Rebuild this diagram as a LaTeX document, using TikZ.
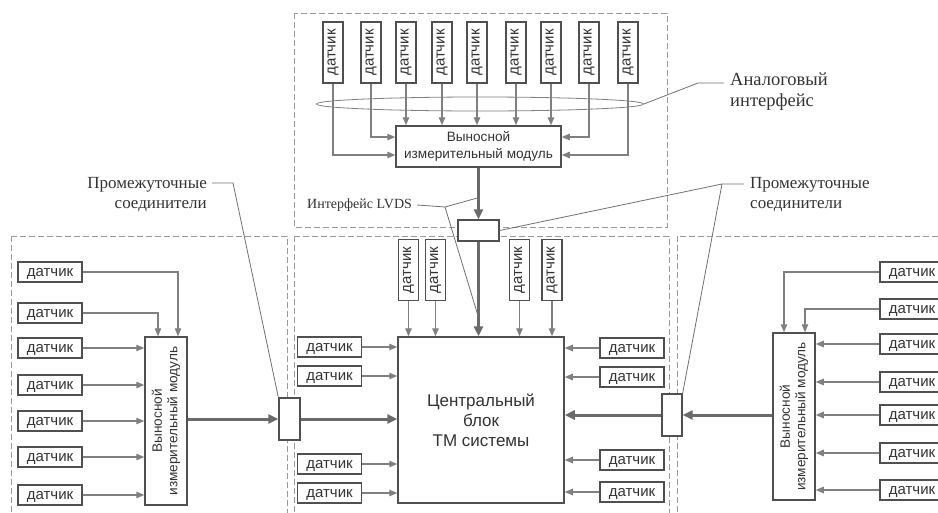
\documentclass[tikz,border=0pt]{standalone}
\usepackage{fontspec}
\setmainfont{Liberation Serif}
\setsansfont{Liberation Sans}
\usepackage{graphicx}
\usetikzlibrary{arrows.meta,positioning,calc,shapes.geometric}
\definecolor{boxc}{HTML}{505050}
\definecolor{arrc}{HTML}{808080}
\definecolor{bigc}{HTML}{6A6A6A}
\definecolor{leadc}{HTML}{707070}
\definecolor{zonec}{HTML}{9A9A9A}
\definecolor{txt}{HTML}{333333}

\begin{document}
\begin{tikzpicture}[x=1pt, y=-1pt,
  dat/.style={rectangle, draw=boxc, line width=1.4pt, fill=white, inner sep=0pt,
    minimum width=64pt, minimum height=20pt, text=txt, text depth=0pt,
    font=\sffamily\fontsize{15}{17}\selectfont},
  vdat/.style={dat, minimum width=20pt, minimum height=61pt},
  mod/.style={rectangle, draw=boxc, line width=1.5pt, fill=white, inner sep=0pt,
    text=txt, align=center, font=\sffamily\fontsize{13.6}{17.5}\selectfont},
  con/.style={rectangle, draw=boxc, line width=1.3pt, fill=white, inner sep=0pt},
  arr/.style={draw=arrc, line width=1.3pt, -{Triangle[length=8pt,width=6.5pt]}},
  big/.style={draw=bigc, line width=3pt, -{Triangle[length=10pt,width=9pt]}},
  lead/.style={draw=leadc, line width=0.8pt},
  zone/.style={draw=zonec, line width=1pt, dash pattern=on 6pt off 3pt},
  lbl/.style={inner sep=0pt, text=txt, font=\rmfamily\fontsize{17}{20.5}\selectfont}]
\useasboundingbox (0,0) rectangle (938,512);

% dashed zones
\draw[zone] (294,13) rectangle (667,227);
\draw[zone] (11,236) rectangle (287,530);
\draw[zone] (294,236) rectangle (669,530);
\draw[zone] (677,236) rectangle (950,530);

% top module
\foreach \i/\x in {1/333,2/371,3/406,4/442,5/477,6/516,7/551,8/589,9/628}
  \node[vdat] (t\i) at (\x,52.5) {\rotatebox{90}{датчик}};
\node[mod, minimum width=165pt, minimum height=41pt] (tm) at (478.5,146.5)
  {Выносной\\измерительный модуль};
\node[ellipse, draw=arrc, line width=0.8pt, minimum width=327pt, minimum height=14pt,
  inner sep=0pt] (an) at (480,104) {};
\draw[arr] (t1.south) |- ([yshift=-8.5pt]tm.west);
\draw[arr] (t2.south) |- ([yshift=9.5pt]tm.west);
\foreach \i in {3,...,7} \draw[arr] (t\i.south) -- (t\i.south |- tm.north);
\draw[arr] (t8.south) |- ([yshift=9.5pt]tm.east);
\draw[arr] (t9.south) |- ([yshift=-8.5pt]tm.east);

% central block
\node[con, minimum width=41pt, minimum height=21pt] (tc) at (478.5,230.5) {};
\node[mod, minimum width=166pt, minimum height=166pt,
  font=\sffamily\fontsize{17}{20}\selectfont] (cb) at (481,420)
  {Центральный\\блок\\ТМ системы};
\foreach \i/\x in {1/408.5,2/435.5,3/519.5,4/552}
  \node[vdat] (c\i) at (\x,270) {\rotatebox{90}{датчик}};
\foreach \i/\y in {1/347,2/376,3/464,4/493}
  \node[dat] (cl\i) at (329.5,\y) {датчик};
\foreach \i/\y in {1/348,2/377,3/460,4/492}
  \node[dat] (cr\i) at (632,\y) {датчик};
\foreach \i in {1,...,4} {
  \draw[arr] (c\i.south) -- (c\i.south |- cb.north);
  \draw[arr] (cl\i.east) -- (cl\i.east -| cb.west);
  \draw[arr] (cr\i.west) -- (cr\i.west -| cb.east);
}
\draw[big] (tm.south) -- (tc.north);
\draw[big] (tc.south) -- (tc.south |- cb.north);

% left module
\node[mod, minimum width=42pt, minimum height=168pt] (lm) at (166,421)
  {\rotatebox{90}{\begin{tabular}{@{}c@{}}Выносной\\[-2pt]измерительный модуль\end{tabular}}};
\foreach \i/\y in {1/272,2/313,3/348,4/385,5/421,6/457,7/495}
  \node[dat] (ls\i) at (50,\y) {датчик};
\draw[arr] (ls1.east) -| ([xshift=12pt]lm.north);
\draw[arr] (ls2.east) -| ([xshift=-8pt]lm.north);
\foreach \i in {3,...,7} \draw[arr] (ls\i.east) -- (ls\i.east -| lm.west);
\node[con, minimum width=21pt, minimum height=42pt] (lc) at (289.5,419) {};
\draw[big] (lm.east |- lc.west) -- (lc.west);
\draw[big] (lc.east) -- (lc.east -| cb.west);

% right module
\node[mod, minimum width=42pt, minimum height=167pt] (rm) at (794,416.5)
  {\rotatebox{90}{\begin{tabular}{@{}c@{}}Выносной\\[-2pt]измерительный модуль\end{tabular}}};
\foreach \i/\y in {1/272,2/309,3/344,4/382,5/415,6/453,7/490}
  \node[dat] (rs\i) at (912,\y) {датчик};
\draw[arr] (rs1.west) -| ([xshift=-10pt]rm.north);
\draw[arr] (rs2.west) -| ([xshift=11pt]rm.north);
\foreach \i in {3,...,7} \draw[arr] (rs\i.west) -- (rs\i.west -| rm.east);
\node[con, minimum width=20pt, minimum height=42pt] (rc) at (672,415) {};
\draw[big] (rm.west |- rc.east) -- (rc.east);
\draw[big] (rc.west) -- (rc.west -| cb.east);

% labels and leaders
\node[lbl, align=left, anchor=north west, font=\rmfamily\fontsize{18.5}{21}\selectfont]
  (ai) at (730,73) {Аналоговый\\интерфейс};
\node[lbl, align=left, anchor=north west] (pr) at (750,177) {Промежуточные\\соединители};
\node[lbl, align=right, anchor=north east] (pl) at (207,177) {Промежуточные\\соединители};
\node[lbl, font=\rmfamily\fontsize{14}{17}\selectfont, anchor=west] (lv) at (307,205)
  {Интерфейс LVDS};

\coordinate (ak) at (698,83);
\draw[lead] (an.east) -- (ak) -- ($(ak -| ai.west)+(-6,0)$);
\coordinate (pk) at (722,184);
\draw[lead] (tc.east) -- (pk) -- ($(pk -| pr.west)+(-6,0)$);
\draw[lead] (pk) -- (rc.north east);
\coordinate (qk) at (233,183);
\draw[lead] ($(qk -| pl.east)+(5,0)$) -- (qk) -- (lc.north west);
\coordinate (v1) at ($(tm.south)!0.58!(tc.north)$);
\coordinate (v2) at ($(tc.south)!0.8!(tc.south |- cb.north)$);
\coordinate (lk) at (445,207);
\draw[lead] ($(lv.east)+(5,0)$) -- (lk) -- (v1);
\draw[lead] (lk) -- (v2);
\end{tikzpicture}
\end{document}
